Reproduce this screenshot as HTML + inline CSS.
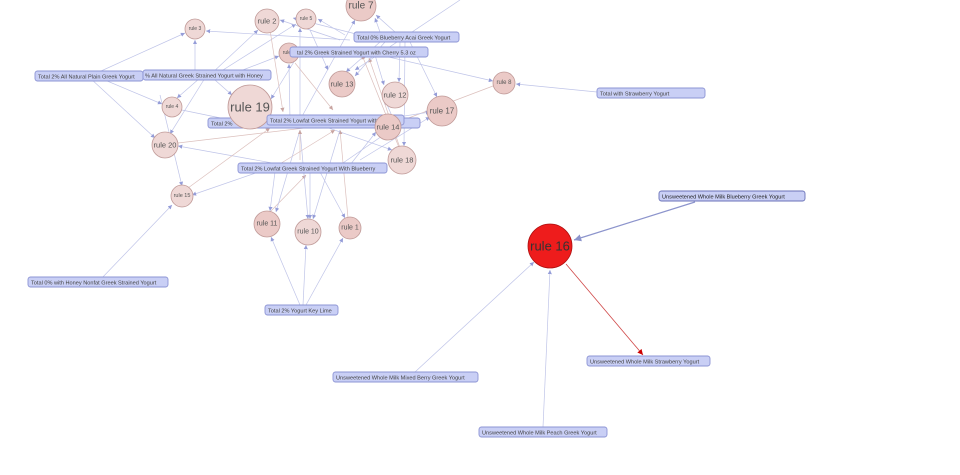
<!DOCTYPE html>
<html><head><meta charset="utf-8"><style>
html,body{margin:0;padding:0;background:#fff;}
svg{display:block;font-family:"Liberation Sans",sans-serif;}
.e{stroke:#bfc4e8;stroke-width:0.7;fill:none;marker-end:url(#a);}
.r{stroke:#dcc0bd;stroke-width:0.7;fill:none;marker-end:url(#ar);}
.n{fill:#efd8d6;stroke:#c09a98;stroke-width:0.8;}
.nd{fill:#ebcac7;stroke:#c09a98;stroke-width:0.8;}
.lb rect{fill:#c9cff5;stroke:#8c94d4;stroke-width:0.9;}
.lb text{font-size:5.6px;fill:#444;}
.t{fill:#555;text-anchor:middle;dominant-baseline:central;}
</style></head><body>
<svg width="960" height="475" viewBox="0 0 960 475">
<defs>
<marker id="a" viewBox="0 0 10 10" refX="10" refY="5" markerWidth="6" markerHeight="6" orient="auto"><path d="M0,0L10,5L0,10z" fill="#959dd8"/></marker>
<marker id="ar" viewBox="0 0 10 10" refX="10" refY="5" markerWidth="6" markerHeight="6" orient="auto"><path d="M0,0L10,5L0,10z" fill="#c8a4a0"/></marker>
<marker id="ad" viewBox="0 0 10 10" refX="10" refY="5" markerWidth="7" markerHeight="7" orient="auto"><path d="M0,0L10,5L0,10z" fill="#c00"/></marker>
<marker id="ab" viewBox="0 0 10 10" refX="10" refY="5" markerWidth="6" markerHeight="6" orient="auto"><path d="M0,0L10,5L0,10z" fill="#8c94cc"/></marker>
</defs>
<g>
<line class="e" x1="90" y1="76" x2="185" y2="33"/>
<line class="e" x1="195" y1="75" x2="195" y2="40"/>
<line class="e" x1="210" y1="75" x2="258" y2="30"/>
<line class="e" x1="215" y1="75" x2="296" y2="24"/>
<line class="e" x1="230" y1="75" x2="279" y2="56"/>
<line class="e" x1="200" y1="78" x2="177" y2="98"/>
<line class="e" x1="205" y1="78" x2="170" y2="134"/>
<line class="e" x1="215" y1="80" x2="232" y2="95"/>
<line class="e" x1="100" y1="78" x2="162" y2="104"/>
<line class="e" x1="90" y1="78" x2="155" y2="138"/>
<line class="e" x1="160" y1="95" x2="182" y2="186"/>
<line class="e" x1="350" y1="40" x2="206" y2="31"/>
<line class="e" x1="340" y1="40" x2="280" y2="20"/>
<line class="e" x1="345" y1="35" x2="318" y2="19"/>
<line class="e" x1="360" y1="35" x2="293" y2="18"/>
<line class="e" x1="380" y1="32" x2="375" y2="18"/>
<line class="e" x1="395" y1="32" x2="376" y2="15"/>
<line class="e" x1="300" y1="120" x2="355" y2="20"/>
<line class="e" x1="380" y1="42" x2="346" y2="72"/>
<line class="e" x1="385" y1="42" x2="355" y2="76"/>
<line class="e" x1="400" y1="42" x2="399" y2="82"/>
<line class="e" x1="410" y1="42" x2="437" y2="97"/>
<line class="e" x1="375" y1="55" x2="384" y2="85"/>
<line class="e" x1="380" y1="55" x2="493" y2="81"/>
<line class="e" x1="405" y1="42" x2="404" y2="146"/>
<line class="e" x1="597" y1="92" x2="516" y2="84"/>
<line class="r" x1="493" y1="86" x2="398" y2="122"/>
<line class="e" x1="300" y1="52" x2="271" y2="99"/>
<line class="e" x1="290" y1="120" x2="289" y2="64"/>
<line class="e" x1="300" y1="120" x2="300" y2="28"/>
<line class="r" x1="295" y1="63" x2="333" y2="110"/>
<line class="r" x1="270" y1="30" x2="283" y2="112"/>
<line class="e" x1="310" y1="30" x2="328" y2="70"/>
<line class="r" x1="400" y1="150" x2="362" y2="55"/>
<line class="r" x1="400" y1="148" x2="369" y2="58"/>
<line class="e" x1="245" y1="123" x2="177" y2="109"/>
<line class="r" x1="178" y1="143" x2="330" y2="125"/>
<line class="e" x1="300" y1="168" x2="178" y2="146"/>
<line class="e" x1="360" y1="123" x2="430" y2="112"/>
<line class="e" x1="350" y1="123" x2="378" y2="119"/>
<line class="e" x1="395" y1="123" x2="385" y2="100"/>
<line class="e" x1="320" y1="125" x2="392" y2="150"/>
<line class="e" x1="340" y1="165" x2="385" y2="134"/>
<line class="e" x1="350" y1="165" x2="376" y2="132"/>
<line class="e" x1="360" y1="160" x2="430" y2="117"/>
<line class="r" x1="270" y1="170" x2="335" y2="130"/>
<line class="e" x1="270" y1="168" x2="192" y2="195"/>
<line class="r" x1="188" y1="188" x2="270" y2="128"/>
<line class="e" x1="275" y1="172" x2="270" y2="211"/>
<line class="r" x1="270" y1="212" x2="306" y2="175"/>
<line class="e" x1="310" y1="172" x2="310" y2="219"/>
<line class="e" x1="300" y1="130" x2="308" y2="219"/>
<line class="e" x1="320" y1="172" x2="345" y2="218"/>
<line class="r" x1="348" y1="218" x2="340" y2="130"/>
<line class="e" x1="300" y1="130" x2="276" y2="212"/>
<line class="e" x1="340" y1="130" x2="313" y2="219"/>
<line class="r" x1="300" y1="160" x2="300" y2="130"/>
<line class="e" x1="460" y1="0" x2="355" y2="70"/>
<line class="e" x1="300" y1="305" x2="271" y2="237"/>
<line class="e" x1="303" y1="305" x2="306" y2="245"/>
<line class="e" x1="306" y1="305" x2="343" y2="238"/>
<line class="e" x1="100" y1="280" x2="172" y2="205"/>
</g>
<line x1="695" y1="202" x2="574" y2="240" stroke="#8c94cc" stroke-width="1.2" marker-end="url(#ab)"/>
<line x1="566" y1="264" x2="643" y2="355" stroke="#d04848" stroke-width="0.8" marker-end="url(#ad)"/>
<line class="e" x1="415" y1="372" x2="534" y2="262"/>
<line class="e" x1="543" y1="427" x2="550" y2="270"/>
<g>
<circle class="n" cx="195" cy="29" r="10"/><text class="t" x="195" y="29" font-size="5">rule 3</text>
<circle class="n" cx="267" cy="21" r="12"/><text class="t" x="267" y="21" font-size="7.5">rule 2</text>
<circle class="n" cx="306" cy="19" r="10"/><text class="t" x="306" y="19" font-size="5">rule 5</text>
<circle class="nd" cx="361" cy="6" r="15"/><text class="t" x="361" y="6" font-size="10">rule 7</text>
<circle class="nd" cx="289" cy="53" r="10"/><text class="t" x="289" y="53" font-size="5">rule 6</text>
<circle class="nd" cx="342" cy="84" r="13"/><text class="t" x="342" y="84" font-size="7.5">rule 13</text>
<circle class="n" cx="395" cy="95" r="13"/><text class="t" x="395" y="95" font-size="7.5">rule 12</text>
<circle class="nd" cx="442" cy="111" r="15"/><text class="t" x="442" y="111" font-size="8">rule 17</text>
<circle class="nd" cx="504" cy="83" r="11"/><text class="t" x="504" y="83" font-size="6">rule 8</text>
<circle class="n" cx="172" cy="107" r="10"/><text class="t" x="172" y="107" font-size="5">rule 4</text>
</g>
<g class="lb"><rect x="35" y="71" width="108" height="10" rx="2.5"/><text x="38" y="78.5">Total 2% All Natural Plain Greek Yogurt</text></g>
<g class="lb"><rect x="143" y="70" width="128" height="10" rx="2.5"/><text x="145" y="77.5">% All Natural Greek Strained Yogurt with Honey</text></g>
<g class="lb"><rect x="290" y="47" width="138" height="10" rx="2.5"/><text x="297" y="54.5">tal 2% Greek Strained Yogurt with Cherry 5.3 oz</text></g>
<g class="lb"><rect x="354" y="32" width="105" height="10" rx="2.5"/><text x="357" y="39.5">Total 0% Blueberry Acai Greek Yogurt</text></g>
<g class="lb"><rect x="597" y="88" width="108" height="10" rx="2.5"/><text x="600" y="95.5">Total with Strawberry Yogurt</text></g>
<g class="lb"><rect x="208" y="118" width="212" height="10" rx="2.5"/><text x="211" y="125.5">Total 2%</text></g>
<circle class="n" cx="250" cy="107" r="22"/><text class="t" x="250" y="107" font-size="13">rule 19</text>
<g class="lb"><rect x="267" y="115" width="137" height="10" rx="2.5"/><text x="270" y="122.5">Total 2% Lowfat Greek Strained Yogurt with Peach</text></g>
<circle class="nd" cx="388" cy="127" r="13"/><text class="t" x="388" y="127" font-size="7.5">rule 14</text>
<circle class="n" cx="165" cy="145" r="13"/><text class="t" x="165" y="145" font-size="7.5">rule 20</text>
<g class="lb"><rect x="238" y="163" width="149" height="10" rx="2.5"/><text x="241" y="170.5">Total 2% Lowfat Greek Strained Yogurt With Blueberry</text></g>
<circle class="n" cx="402" cy="160" r="14"/><text class="t" x="402" y="160" font-size="7.5">rule 18</text>
<circle class="n" cx="182" cy="196" r="11"/><text class="t" x="182" y="196" font-size="5.5">rule 15</text>
<circle class="nd" cx="267" cy="224" r="13"/><text class="t" x="267" y="224" font-size="7">rule 11</text>
<circle class="n" cx="308" cy="232" r="13"/><text class="t" x="308" y="232" font-size="7">rule 10</text>
<circle class="nd" cx="350" cy="228" r="11"/><text class="t" x="350" y="228" font-size="7">rule 1</text>
<circle cx="550" cy="246" r="22" fill="#ee1c1c" stroke="#b01010" stroke-width="0.8"/><text class="t" x="550" y="246" font-size="13" style="fill:#333">rule 16</text>
<g class="lb"><rect x="659" y="191" width="146" height="10" rx="2.5" style="stroke:#6a72b8"/><text x="662" y="198.5" style="fill:#222">Unsweetened Whole Milk Blueberry Greek Yogurt</text></g>
<g class="lb"><rect x="28" y="277" width="140" height="10" rx="2.5"/><text x="31" y="284.5">Total 0% with Honey Nonfat Greek Strained Yogurt</text></g>
<g class="lb"><rect x="265" y="305" width="73" height="10" rx="2.5"/><text x="268" y="312.5">Total 2% Yogurt Key Lime</text></g>
<g class="lb"><rect x="587" y="356" width="123" height="10" rx="2.5"/><text x="590" y="363.5">Unsweetened Whole Milk Strawberry Yogurt</text></g>
<g class="lb"><rect x="333" y="372" width="145" height="10" rx="2.5"/><text x="336" y="379.5">Unsweetened Whole Milk Mixed Berry Greek Yogurt</text></g>
<g class="lb"><rect x="479" y="427" width="128" height="10" rx="2.5"/><text x="482" y="434.5">Unsweetened Whole Milk Peach Greek Yogurt</text></g>
</svg>
</body></html>
